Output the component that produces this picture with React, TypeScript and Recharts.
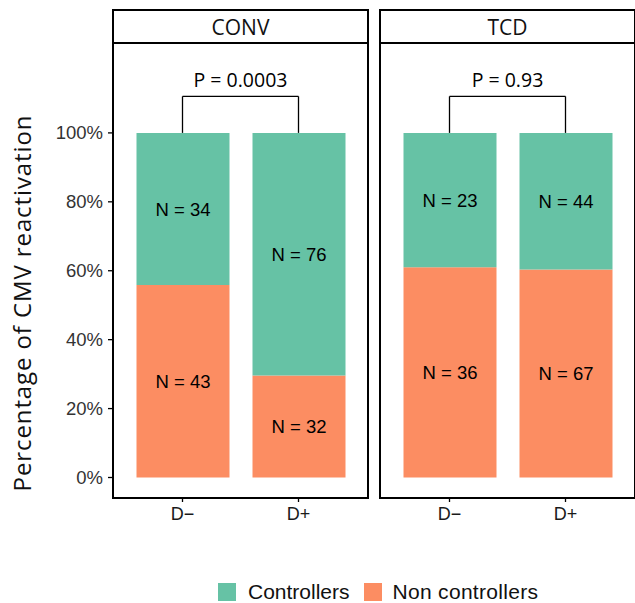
import React from 'react'
import { BarChart, Bar, XAxis, YAxis, LabelList, ReferenceLine } from 'recharts'

const donors = ['D−', 'D+']
const conditions = ['CONV', 'TCD']
const controllersN = [
  [34, 76],
  [23, 44],
]
const nonControllersN = [
  [43, 32],
  [36, 67],
]
const pValues = ['P = 0.0003', 'P = 0.93']
const yTicks = [0, 0.2, 0.4, 0.6, 0.8, 1]

const TEAL = '#66C2A5'
const ORANGE = '#FC8D62'
const FONT = '"Liberation Sans", Arial, sans-serif'
const FONT2 = '"Open Sans", "Noto Sans", sans-serif'

const PANEL_W = 255
const Y_W = 113
const panelLefts = [113, 380]

function buildRows(i: number) {
  return donors.map((d, j) => {
    const c = controllersN[i][j]
    const n = nonControllersN[i][j]
    return { donor: d, ctrl: c / (c + n), non: n / (c + n), ctrlN: c, nonN: n }
  })
}

const nLabel = (v: any) => `N = ${v}`

function Panel({ idx, showY }: { idx: number; showY: boolean }) {
  const rows = buildRows(idx)
  const yW = showY ? Y_W : 0
  return (
    <BarChart
      width={PANEL_W + yW}
      height={494}
      data={rows}
      margin={{ top: 0, right: 0, bottom: 0, left: 0 }}
      barSize={93}
    >
      <XAxis
        dataKey="donor"
        height={40}
        padding={{ left: 11.5, right: 11.5 }}
        axisLine={false}
        tickLine={{ stroke: '#000', strokeWidth: 1.3 }}
        tickSize={4}
        tickMargin={5}
        tick={{ fill: '#1a1a1a', fontSize: 18, fontFamily: FONT }}
      />
      <YAxis
        hide={!showY}
        width={yW}
        type="number"
        domain={[-0.0595, 1.258]}
        allowDataOverflow
        ticks={yTicks}
        tickFormatter={(v: number) => `${Math.round(v * 100)}%`}
        axisLine={false}
        tickLine={{ stroke: '#000', strokeWidth: 1.3 }}
        tickSize={5}
        tickMargin={5}
        tick={{ fill: '#333', fontSize: 18.5, fontFamily: FONT }}
      />
      <Bar dataKey="non" stackId="a" fill={ORANGE} isAnimationActive={false}>
        <LabelList dataKey="nonN" position="center" formatter={nLabel} fill="#000" fontSize={18.5} fontFamily={FONT} />
      </Bar>
      <Bar dataKey="ctrl" stackId="a" fill={TEAL} isAnimationActive={false}>
        <LabelList dataKey="ctrlN" position="center" formatter={nLabel} fill="#000" fontSize={18.5} fontFamily={FONT} />
      </Bar>
      <ReferenceLine
        segment={[{ x: donors[0], y: 1.106 }, { x: donors[1], y: 1.106 }]}
        stroke="#000"
        strokeWidth={1.3}
        ifOverflow="visible"
        label={{ value: pValues[idx], position: 'top', offset: 9.5, fill: '#000', fontSize: 19.5, fontFamily: FONT2 }}
      />
      <ReferenceLine
        segment={[{ x: donors[0], y: 1 }, { x: donors[0], y: 1.106 }]}
        stroke="#000"
        strokeWidth={1.3}
        ifOverflow="visible"
      />
      <ReferenceLine
        segment={[{ x: donors[1], y: 1 }, { x: donors[1], y: 1.106 }]}
        stroke="#000"
        strokeWidth={1.3}
        ifOverflow="visible"
      />
    </BarChart>
  )
}

export default function App() {
  return (
    <div style={{ position: 'absolute', left: 0, top: 0, width: 635, height: 603, background: '#fff', fontFamily: FONT, overflow: 'hidden' }}>
      <div style={{ position: 'absolute', left: 0, top: 44 }}>
        <Panel idx={0} showY={true} />
      </div>
      <div style={{ position: 'absolute', left: panelLefts[1], top: 44 }}>
        <Panel idx={1} showY={false} />
      </div>
      {conditions.map((c, i) => (
        <React.Fragment key={c}>
          <div
            style={{
              position: 'absolute', left: panelLefts[i] - 1, top: 9, width: PANEL_W + 2, height: 35,
              boxSizing: 'border-box', border: '2px solid #000', display: 'flex', alignItems: 'center',
              justifyContent: 'center', fontSize: 21, fontFamily: FONT2, color: '#111', background: '#fff',
            }}
          >
            {c}
          </div>
          <div
            style={{
              position: 'absolute', left: panelLefts[i] - 1, top: 43, width: PANEL_W + 2, height: 456,
              boxSizing: 'border-box', border: '2px solid #000', borderTop: 'none', pointerEvents: 'none',
            }}
          />
        </React.Fragment>
      ))}
      <div
        style={{
          position: 'absolute', left: 21, top: 303, transform: 'translate(-50%, -50%) rotate(-90deg)',
          whiteSpace: 'nowrap', fontSize: 24, letterSpacing: 0.9, fontFamily: FONT2, color: '#111',
        }}
      >
        Percentage of CMV reactivation
      </div>
      <div style={{ position: 'absolute', left: 218, top: 580, display: 'flex', alignItems: 'center', fontSize: 21, lineHeight: '24px', color: '#111' }}>
        <span style={{ width: 18, height: 18, background: TEAL, display: 'inline-block', marginRight: 12 }} />
        <span style={{ marginRight: 14 }}>Controllers</span>
        <span style={{ width: 18, height: 18, background: ORANGE, display: 'inline-block', marginRight: 11 }} />
        <span style={{ letterSpacing: 0.3 }}>Non controllers</span>
      </div>
    </div>
  )
}
